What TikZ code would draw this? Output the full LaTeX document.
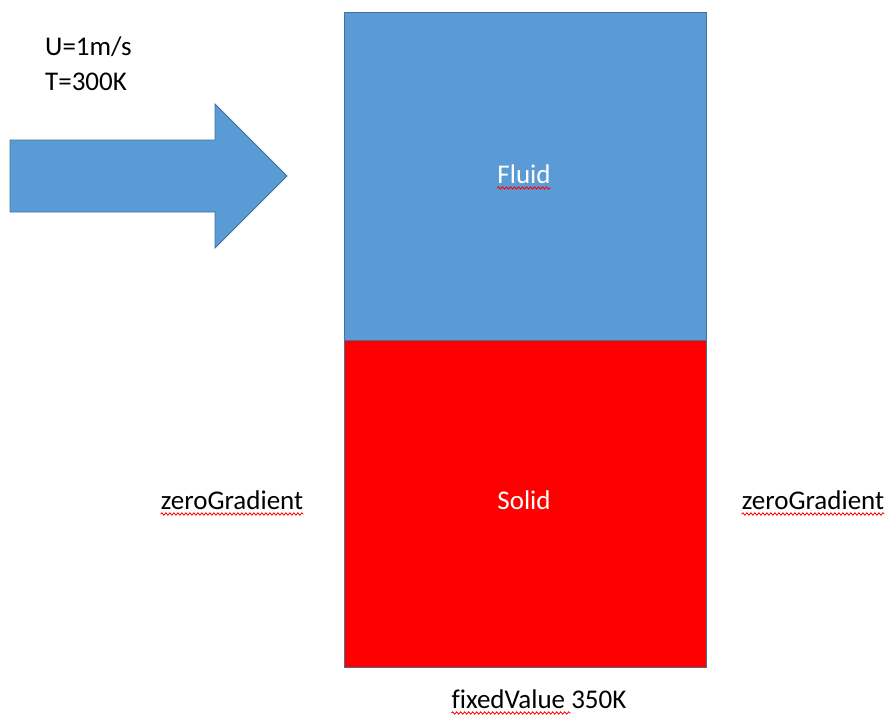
\documentclass[tikz,border=0pt]{standalone}
\usepackage{fontspec}
\setmainfont{Carlito}[Ligatures=NoCommon]
\usetikzlibrary{decorations.pathmorphing,calc}
\definecolor{fillblue}{HTML}{5B9BD5}
\definecolor{edgeblue}{HTML}{41719C}
\begin{document}
\begin{tikzpicture}[x=1pt,y=-1pt,
  lbl/.style={font=\fontsize{27}{32}\selectfont, inner sep=0pt, anchor=base},
  spell/.style={draw=red, line width=0.8pt, decorate, decoration={snake, amplitude=1.2pt, segment length=4pt}}]
\useasboundingbox (0,0) rectangle (890,715);
% arrow
\draw[fill=fillblue, draw=edgeblue, line width=0.8pt]
  (10,140) -- (215,140) -- (215,104) -- (287,176) -- (215,248) -- (215,212) -- (10,212) -- cycle;
% domains
\node[draw=edgeblue, fill=fillblue, line width=0.8pt, minimum width=362, minimum height=328, inner sep=0pt, anchor=north west] (fluid) at (344,12) {};
\node[draw=edgeblue, fill=red, line width=0.8pt, minimum width=362, minimum height=327, inner sep=0pt, anchor=north west] (solid) at (344,340) {};
% labels
\node[lbl, anchor=base west] (u) at (45,55) {U=1m/s};
\node[lbl, anchor=base west] (t) at (45,90) {T=300K};
\node[lbl, white] (fl) at (524,183) {Fluid};
\node[lbl, white] (so) at (524,509) {Solid};
\node[lbl] (zl) at (232,509) {zeroGradient};
\node[lbl] (zr) at (813,509) {zeroGradient};
\node[lbl] (fv) at (539,708) {fixedValue 350K};
% spell-check underlines
\draw[spell] ($(fl.base west)+(0,5)$) -- ($(fl.base east)+(0,5)$);
\draw[spell] ($(so.base west)+(0,5)$) -- ($(so.base east)+(0,5)$);
\draw[spell] ($(zl.base west)+(0,5)$) -- ($(zl.base east)+(0,5)$);
\draw[spell] ($(zr.base west)+(0,5)$) -- ($(zr.base east)+(0,5)$);
\draw[spell] ($(fv.base west)+(0,5)$) -- ($(fv.base west)!0.68!(fv.base east)+(0,5)$);
\end{tikzpicture}
\end{document}
